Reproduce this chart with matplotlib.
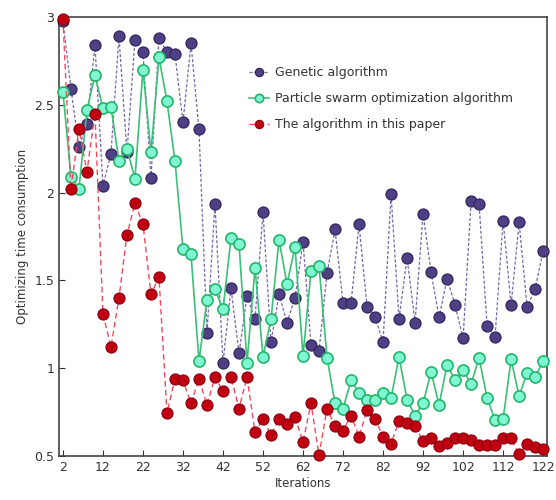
import numpy as np
import matplotlib
matplotlib.use("Agg")
import matplotlib.pyplot as plt

# iterations 2, 4, ..., 122
iterations = list(range(2, 123, 2))

genetic = [2.98, 2.59, 2.26, 2.39, 2.84, 2.04, 2.22, 2.89, 2.23, 2.87,
           2.80, 2.085, 2.88, 2.80, 2.79, 2.40, 2.85, 2.36, 1.20, 1.935,
           1.03, 1.455, 1.085, 1.41, 1.28, 1.89, 1.15, 1.42, 1.26, 1.40,
           1.72, 1.13, 1.10, 1.54, 1.79, 1.37, 1.37, 1.82, 1.35, 1.29,
           1.15, 1.99, 1.28, 1.63, 1.26, 1.88, 1.545, 1.29, 1.51, 1.36,
           1.17, 1.95, 1.935, 1.24, 1.18, 1.84, 1.36, 1.83, 1.35, 1.45,
           1.67]

pso = [2.575, 2.09, 2.02, 2.47, 2.67, 2.48, 2.49, 2.18, 2.25, 2.08,
       2.70, 2.23, 2.77, 2.52, 2.18, 1.68, 1.65, 1.04, 1.39, 1.45,
       1.335, 1.74, 1.71, 1.03, 1.57, 1.065, 1.28, 1.73, 1.48, 1.69,
       1.07, 1.555, 1.58, 1.06, 0.80, 0.77, 0.93, 0.86, 0.82, 0.82,
       0.86, 0.83, 1.065, 0.82, 0.73, 0.80, 0.98, 0.79, 1.02, 0.93,
       0.99, 0.91, 1.06, 0.83, 0.705, 0.71, 1.05, 0.84, 0.975, 0.95,
       1.04]

paper = [2.99, 2.02, 2.36, 2.12, 2.45, 1.31, 1.12, 1.40, 1.76, 1.94,
         1.82, 1.42, 1.52, 0.745, 0.94, 0.93, 0.80, 0.94, 0.79, 0.95,
         0.87, 0.95, 0.77, 0.95, 0.635, 0.71, 0.62, 0.71, 0.68, 0.72,
         0.58, 0.80, 0.505, 0.77, 0.67, 0.645, 0.73, 0.61, 0.76, 0.71,
         0.61, 0.57, 0.70, 0.69, 0.67, 0.585, 0.60, 0.555, 0.575, 0.60,
         0.60, 0.59, 0.56, 0.56, 0.56, 0.60, 0.60, 0.51, 0.57, 0.55,
         0.54]

labels = ["Genetic algorithm",
          "Particle swarm optimization algorithm",
          "The algorithm in this paper"]

xticks = list(range(2, 123, 10))
yticks = [0.5, 1, 1.5, 2, 2.5, 3]

plt.rcParams['font.family'] = ['DejaVu Sans']

fig = plt.figure(figsize=(5.56, 5.0), dpi=100)
ax = fig.add_axes([0.106, 0.088, 0.878, 0.878])

ax.plot(iterations, genetic, linestyle=(0, (2.5, 1.5)), linewidth=0.9,
        color='#7868a8', marker='o', markersize=8,
        markerfacecolor='#4f3f85', markeredgecolor='#2e2356',
        markeredgewidth=0.8, label=labels[0], clip_on=False, zorder=3)
ax.plot(iterations, pso, linestyle='-', linewidth=1.2,
        color='#3cbf78', marker='o', markersize=8,
        markerfacecolor='#7ff7d2', markeredgecolor='#25b46a',
        markeredgewidth=1.2, label=labels[1], clip_on=False, zorder=4)
ax.plot(iterations, paper, linestyle=(0, (4, 2.5)), linewidth=1.0,
        color='#f04a5e', marker='o', markersize=8,
        markerfacecolor='#c00010', markeredgecolor='#8a0010',
        markeredgewidth=0.8, label=labels[2], clip_on=False, zorder=5)

ax.set_xlim(1, 123)
ax.set_ylim(0.5, 3)
ax.set_xticks(xticks)
ax.set_yticks(yticks)
ax.set_yticklabels(['0.5', '1', '1.5', '2', '2.5', '3'])
ax.tick_params(direction='in', length=4, width=0.8, labelsize=9,
               colors='#333333')
for s in ax.spines.values():
    s.set_color('#444444')
    s.set_linewidth(1.2)

ax.set_xlabel('Iterations', fontsize=8.5, color='#333333', labelpad=2)
ax.set_ylabel('Optimizing time consumption', fontsize=8.5, color='#333333',
              labelpad=4)

leg = ax.legend(loc='upper left', bbox_to_anchor=(0.366, 0.914), frameon=False,
                fontsize=9, labelspacing=1.05, handlelength=1.6,
                handletextpad=0.5, markerscale=0.75)
for t in leg.get_texts():
    t.set_color('#333333')

fig.savefig('out.png', dpi=100)
